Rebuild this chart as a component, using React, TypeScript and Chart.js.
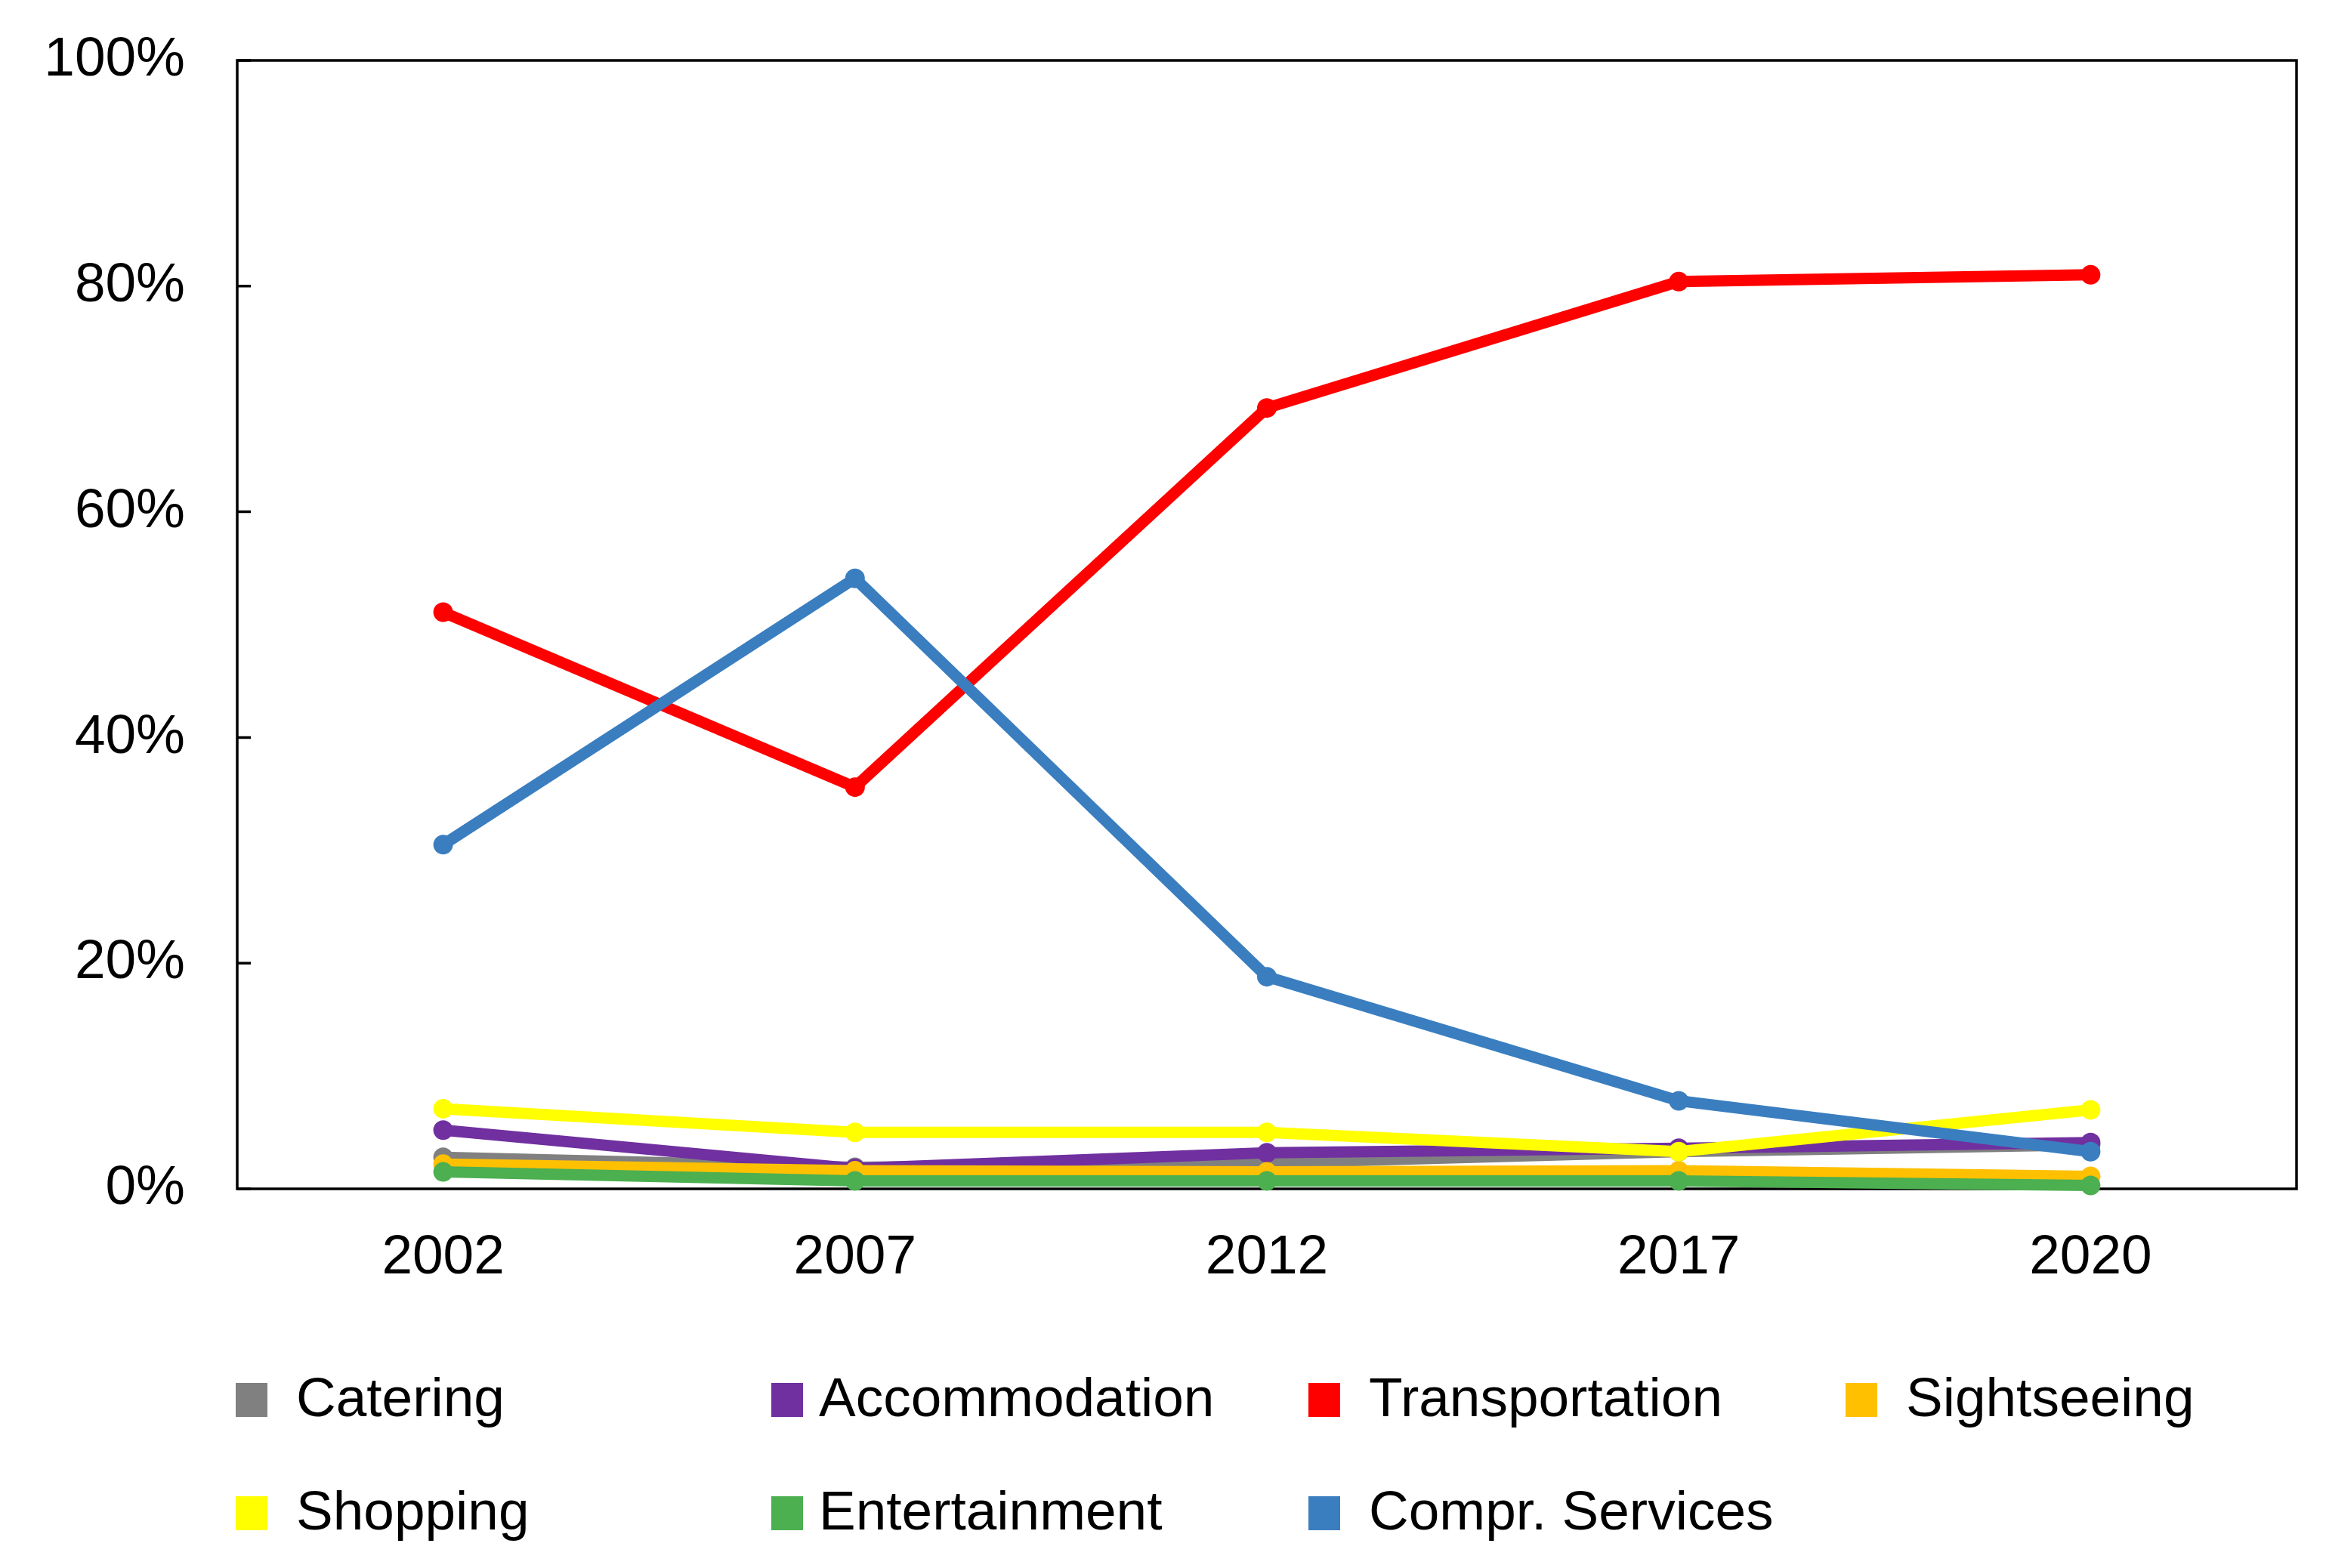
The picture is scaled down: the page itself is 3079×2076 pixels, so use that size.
import React, { useEffect, useRef } from "react";
import { Chart, registerables } from "chart.js";

Chart.register(...registerables);

const years = ["2002", "2007", "2012", "2017", "2020"];
const catering = [2.8, 1.9, 2.3, 3.3, 3.9];
const accommodation = [5.2, 1.8, 3.2, 3.6, 4.1];
const transportation = [51.1, 35.6, 69.2, 80.4, 81.0];
const sightseeing = [2.2, 1.6, 1.5, 1.6, 1.1];
const shopping = [7.1, 5.0, 5.0, 3.3, 7.0];
const entertainment = [1.5, 0.7, 0.7, 0.7, 0.3];
const comprServices = [30.5, 54.1, 18.8, 7.8, 3.3];

const seriesNames = [
  "Catering",
  "Accommodation",
  "Transportation",
  "Sightseeing",
  "Shopping",
  "Entertainment",
  "Compr. Services",
];
const seriesValues = [
  catering,
  accommodation,
  transportation,
  sightseeing,
  shopping,
  entertainment,
  comprServices,
];
const seriesColors = [
  "#808080",
  "#7030A0",
  "#FF0000",
  "#FFC000",
  "#FFFF00",
  "#4CAF50",
  "#3A7EC0",
];

const yMin = 0;
const yMax = 100;
const yStep = 20;

const FONT = "Liberation Sans, Arial, sans-serif";
const FONT_SIZE = 73;

const framePlugin = {
  id: "frameAndLegend",
  beforeDatasetsDraw(chart: any) {
    const { ctx, chartArea } = chart;
    const yScale = chart.scales.y;
    ctx.save();
    ctx.strokeStyle = "#000";
    ctx.lineWidth = 3.5;
    ctx.strokeRect(
      chartArea.left,
      chartArea.top,
      chartArea.right - chartArea.left,
      chartArea.bottom - chartArea.top
    );
    ctx.beginPath();
    for (const t of yScale.ticks) {
      const y = yScale.getPixelForValue(t.value);
      ctx.moveTo(chartArea.left, y);
      ctx.lineTo(chartArea.left + 18, y);
    }
    ctx.stroke();
    ctx.restore();
  },
  afterDraw(chart: any) {
    const { ctx } = chart;
    const colX = [312, 1021, 1732, 2443];
    const rowY = [1853, 2003];
    ctx.save();
    ctx.font = `${FONT_SIZE}px ${FONT}`;
    ctx.textBaseline = "middle";
    ctx.textAlign = "left";
    chart.data.datasets.forEach((ds: any, i: number) => {
      const c = i % 4;
      const r = Math.floor(i / 4);
      const x = colX[c];
      const y = rowY[r];
      ctx.fillStyle = ds.borderColor;
      ctx.fillRect(x, y - 22, 42, 45);
      ctx.fillStyle = "#000";
      ctx.fillText(ds.label, x + (c === 1 ? 63 : 80), y + 2);
    });
    ctx.restore();
  },
};

export default function App() {
  const canvasRef = useRef<HTMLCanvasElement | null>(null);

  useEffect(() => {
    const canvas = canvasRef.current;
    if (!canvas) return;
    const n = seriesNames.length;
    const chart = new Chart(canvas, {
      type: "line",
      data: {
        labels: years,
        datasets: seriesNames.map((name, i) => ({
          label: name,
          data: seriesValues[i],
          borderColor: seriesColors[i],
          backgroundColor: seriesColors[i],
          pointBackgroundColor: seriesColors[i],
          pointBorderColor: seriesColors[i],
          borderWidth: 15,
          pointRadius: 13,
          pointBorderWidth: 0,
          tension: 0,
          fill: false,
          clip: false as any,
          order: n - i,
        })),
      },
      options: {
        animation: false,
        responsive: false,
        devicePixelRatio: 1,
        layout: { padding: { left: 0, top: 80, right: 39, bottom: 0 } },
        plugins: {
          legend: { display: false },
          tooltip: { enabled: false },
        },
        scales: {
          x: {
            type: "category",
            offset: true,
            grid: { display: false, drawTicks: false },
            border: { display: false },
            ticks: {
              color: "#000",
              padding: 48,
              font: { family: FONT, size: FONT_SIZE },
              maxRotation: 0,
            },
            afterFit(scale: any) {
              scale.height = 502;
              scale.paddingLeft = 0;
              scale.paddingRight = 0;
            },
          },
          y: {
            min: yMin,
            max: yMax,
            grid: { display: false, drawTicks: false },
            border: { display: false },
            ticks: {
              stepSize: yStep,
              color: "#000",
              padding: 69,
              font: { family: FONT, size: FONT_SIZE },
              callback: (v: any) => `${v}%`,
            },
            afterFit(scale: any) {
              scale.width = 314;
              scale.paddingTop = 0;
              scale.paddingBottom = 0;
            },
          },
        },
      },
      plugins: [framePlugin],
    });
    return () => chart.destroy();
  }, []);

  return (
    <div style={{ position: "absolute", left: 0, top: 0, width: 3079, height: 2076, background: "#fff" }}>
      <canvas ref={canvasRef} width={3079} height={2076} style={{ width: 3079, height: 2076, display: "block" }} />
    </div>
  );
}
